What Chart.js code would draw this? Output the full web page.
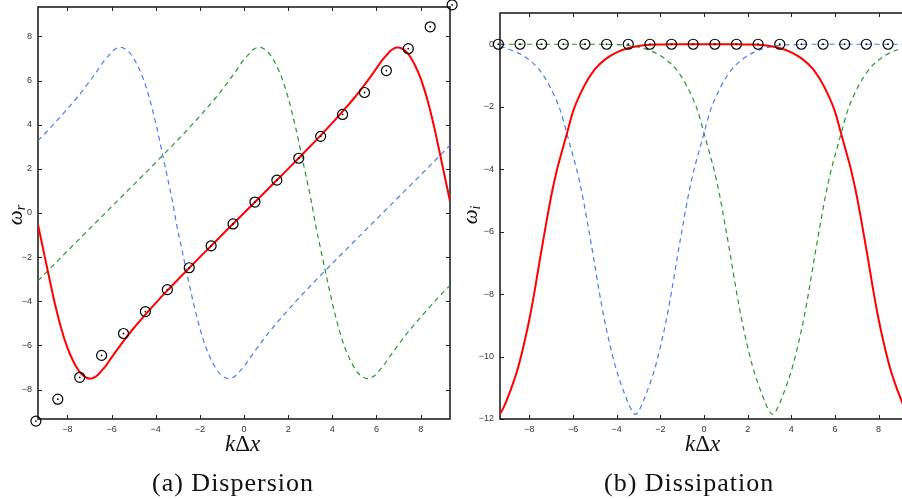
<!DOCTYPE html>
<html>
<head>
<meta charset="utf-8">
<script src="https://cdn.jsdelivr.net/npm/chart.js@4.4.1/dist/chart.umd.min.js"></script>
<style>
  body { margin:0; width:902px; height:499px; overflow:hidden; position:relative; background:#fff; }
  canvas { position:absolute; top:0; }
  .lbl { position:absolute; font-family:"Liberation Serif","Times New Roman",serif; color:#111; white-space:nowrap; }
  .ax { font-size:23px; }
  .cap { font-size:26px; letter-spacing:1px; }
  .yl { font-size:21px; transform:rotate(-90deg); transform-origin:center; }
  .yl sub { font-size:14px; font-style:italic; vertical-align:-3px; }
</style>
</head>
<body>
<canvas id="dispChart" width="460" height="440" style="left:0"></canvas>
<canvas id="dissChart" width="450" height="440" style="left:460px"></canvas>

<div class="lbl yl" style="left:6px;top:202px"><i>ω</i><sub>r</sub></div>
<div class="lbl yl" style="left:462px;top:202px"><i>ω</i><sub>i</sub></div>
<div class="lbl ax" style="left:225px;top:431px"><i>k</i>Δ<i>x</i></div>
<div class="lbl ax" style="left:685px;top:431px"><i>k</i>Δ<i>x</i></div>
<div class="lbl cap" style="left:152px;top:468px">(a) Dispersion</div>
<div class="lbl cap" style="left:604px;top:468px">(b) Dissipation</div>

<script>
// tick positions
const xTicks = [-8, -6, -4, -2, 0, 2, 4, 6, 8];
const yTicksDisp = [-8, -6, -4, -2, 0, 2, 4, 6, 8];
const yTicksDiss = [-12, -10, -8, -6, -4, -2, 0];

// exact relation omega = k at the sampled wavenumbers
const kExact = [-9.425, -8.433, -7.441, -6.449, -5.457, -4.465, -3.472, -2.480, -1.488, -0.496,
                0.496, 1.488, 2.480, 3.472, 4.465, 5.457, 6.449, 7.441, 8.433, 9.425];
const omegaExactR = [-9.425, -8.433, -7.441, -6.449, -5.457, -4.465, -3.472, -2.480, -1.488, -0.496,
                     0.496, 1.488, 2.480, 3.472, 4.465, 5.457, 6.449, 7.441, 8.433, 9.425];
const omegaExactI = [0, 0, 0, 0, 0, 0, 0, 0, 0, 0, 0, 0, 0, 0, 0, 0, 0, 0, 0, 0];

// real part: physical mode
const kPhysR = [-9.33, -9.1, -8.85, -8.6, -8.3, -8, -7.75, -7.5, -7.3, -7.15, -7, -6.9, -6.8, -6.65, -6.5, -6.25, -6, -5.5, -5, -4.5, -4, -3.5, -3, -2, -1,
                0, 1, 2, 3, 3.5, 4, 4.5, 5, 5.5, 6, 6.25, 6.5, 6.65, 6.8, 6.9, 7, 7.15, 7.3, 7.5, 7.75, 8, 8.3, 8.6, 8.85, 9.1, 9.33];
const physR = [-0.53, -1.62, -2.8, -3.95, -5.15, -6.1, -6.68, -7.12, -7.35, -7.45, -7.5, -7.5, -7.46, -7.36, -7.2, -6.91, -6.55, -5.86, -5.22, -4.64, -4.08, -3.54, -3.02, -2, -1,
               0, 1, 2, 3.02, 3.54, 4.08, 4.64, 5.22, 5.86, 6.55, 6.91, 7.2, 7.36, 7.46, 7.5, 7.5, 7.45, 7.35, 7.12, 6.68, 6.1, 5.15, 3.95, 2.8, 1.62, 0.53];

// real part: the two spurious modes
const kSpurAR = [-9.33, -9.07, -8.57, -8.07, -7.57, -7.07, -6.57, -6.32, -6.07, -5.92, -5.77, -5.67, -5.57, -5.42, -5.27, -5.07, -4.82, -4.57, -4.27, -3.97, -3.72, -3.47, -3.24,
                 -3.05, -2.82, -2.57, -2.32, -2.02, -1.72, -1.47, -1.22, -1.02, -0.87, -0.72, -0.62, -0.52, -0.37, -0.22, 0.03, 0.28, 0.78, 1.28, 1.78, 2.28, 2.78, 3.28,
                 4.28, 5.28, 6.28, 7.28, 8.28, 9.33];
const spurAR = [3.28, 3.54, 4.08, 4.64, 5.22, 5.86, 6.55, 6.91, 7.2, 7.36, 7.46, 7.5, 7.5, 7.45, 7.35, 7.12, 6.68, 6.1, 5.15, 3.95, 2.8, 1.62, 0.53,
                -0.53, -1.62, -2.8, -3.95, -5.15, -6.1, -6.68, -7.12, -7.35, -7.45, -7.5, -7.5, -7.46, -7.36, -7.2, -6.91, -6.55, -5.86, -5.22, -4.64, -4.08, -3.54, -3.02,
                -2, -1, 0, 1, 2, 3.07];
const kSpurBR = [-9.33, -8.28, -7.28, -6.28, -5.28, -4.28, -3.28, -2.78, -2.28, -1.78, -1.28, -0.78, -0.28, -0.03, 0.22, 0.37, 0.52, 0.62, 0.72, 0.87, 1.02, 1.22, 1.47,
                 1.72, 2.02, 2.32, 2.57, 2.82, 3.05, 3.24, 3.47, 3.72, 3.97, 4.27, 4.57, 4.82, 5.07, 5.27, 5.42, 5.57, 5.67, 5.77, 5.92, 6.07, 6.32, 6.57,
                 7.07, 7.57, 8.07, 8.57, 9.07, 9.33];
const spurBR = [-3.07, -2, -1, 0, 1, 2, 3.02, 3.54, 4.08, 4.64, 5.22, 5.86, 6.55, 6.91, 7.2, 7.36, 7.46, 7.5, 7.5, 7.45, 7.35, 7.12, 6.68,
                6.1, 5.15, 3.95, 2.8, 1.62, 0.53, -0.53, -1.62, -2.8, -3.95, -5.15, -6.1, -6.68, -7.12, -7.35, -7.45, -7.5, -7.5, -7.46, -7.36, -7.2, -6.91, -6.55,
                -5.86, -5.22, -4.64, -4.08, -3.54, -3.28];

// imaginary part: physical mode
const kPhysI = [-9.35, -9.2, -9, -8.75, -8.5, -8.25, -8, -7.75, -7.5, -7.25, -7, -6.75, -6.5, -6.28, -6, -5.5, -5, -4.5, -4, -3.5, -3.14, -2.5, -2, -1.5,
                0, 1.5, 2, 2.5, 3.14, 3.5, 4, 4.5, 5, 5.5, 6, 6.28, 6.5, 6.75, 7, 7.25, 7.5, 7.75, 8, 8.25, 8.5, 8.75, 9, 9.2, 9.35];
const physI = [-11.84, -11.65, -11.32, -10.85, -10.3, -9.6, -8.8, -7.85, -6.8, -5.8, -4.85, -4.05, -3.4, -2.85, -2.15, -1.35, -0.8, -0.47, -0.26, -0.13, -0.07, -0.02, -0.01, 0,
               0, 0, -0.01, -0.02, -0.07, -0.13, -0.26, -0.47, -0.8, -1.35, -2.15, -2.85, -3.4, -4.05, -4.85, -5.8, -6.8, -7.85, -8.8, -9.6, -10.3, -10.85, -11.32, -11.65, -11.84];

// imaginary part: spurious modes
const kSpurAI = [-9.35, -9.07, -8.57, -8.07, -7.57, -7.07, -6.57, -6.29, -6.07, -5.82, -5.57, -5.32, -5.07, -4.82, -4.57, -4.32, -4.07, -3.82, -3.57, -3.37, -3.14,
                 -2.92, -2.72, -2.47, -2.22, -1.97, -1.72, -1.47, -1.22, -0.97, -0.72, -0.47, -0.22, 0, 0.28, 0.78, 1.28, 1.78, 2.28, 2.78, 3.14, 3.78, 4.28, 4.78, 9.35];
const spurAI = [-0.06, -0.13, -0.26, -0.47, -0.8, -1.35, -2.15, -2.85, -3.4, -4.05, -4.85, -5.8, -6.8, -7.85, -8.8, -9.6, -10.3, -10.85, -11.32, -11.65, -11.85,
                -11.65, -11.32, -10.85, -10.3, -9.6, -8.8, -7.85, -6.8, -5.8, -4.85, -4.05, -3.4, -2.85, -2.15, -1.35, -0.8, -0.47, -0.26, -0.13, -0.07, -0.02, -0.01, 0, 0];
const kSpurBI = [-9.35, -4.78, -4.28, -3.78, -3.14, -2.78, -2.28, -1.78, -1.28, -0.78, -0.28, 0, 0.22, 0.47, 0.72, 0.97, 1.22, 1.47, 1.72, 1.97, 2.22, 2.47, 2.72, 2.92,
                 3.14, 3.37, 3.57, 3.82, 4.07, 4.32, 4.57, 4.82, 5.07, 5.32, 5.57, 5.82, 6.07, 6.29, 6.57, 7.07, 7.57, 8.07, 8.57, 9.07, 9.35];
const spurBI = [0, 0, -0.01, -0.02, -0.07, -0.13, -0.26, -0.47, -0.8, -1.35, -2.15, -2.85, -3.4, -4.05, -4.85, -5.8, -6.8, -7.85, -8.8, -9.6, -10.3, -10.85, -11.32, -11.65,
                -11.85, -11.65, -11.32, -10.85, -10.3, -9.6, -8.8, -7.85, -6.8, -5.8, -4.85, -4.05, -3.4, -2.85, -2.15, -1.35, -0.8, -0.47, -0.26, -0.13, -0.06];

const RED = '#ff0000', BLUE = '#4a7bf0', GREEN = '#2a9630';

function pts(xs, ys){ return xs.map((x,i)=>({x, y:ys[i]})); }

function curve(xs, ys, color, dashed, order){
  return {
    data: pts(xs, ys), borderColor: color, borderWidth: dashed ? 1.2 : 2,
    borderDash: dashed ? [5,4] : [], pointRadius: 0, fill: false,
    cubicInterpolationMode: 'monotone', order
  };
}
function markers(xs, ys){
  return [
    { data: pts(xs, ys), showLine:false, pointRadius:5, pointBorderWidth:1.2,
      pointBorderColor:'#000', pointBackgroundColor:'rgba(0,0,0,0)', clip:false, order:1 },
    { data: pts(xs, ys), showLine:false, pointRadius:0.9, pointBorderWidth:0,
      pointBackgroundColor:'#000', clip:false, order:0 }
  ];
}

const fmt = v => v < 0 ? '\u2212' + Math.abs(v) : '' + v;

// frame and inward tick marks on all four sides
const boxTicks = {
  id: 'boxTicks',
  beforeDatasetsDraw(chart){
    const {ctx, chartArea:a, scales:{x, y}} = chart;
    ctx.save();
    ctx.strokeStyle = '#222'; ctx.lineWidth = 1;
    ctx.beginPath();
    x.ticks.forEach(t=>{
      const px = Math.round(x.getPixelForValue(t.value)) + 0.5;
      ctx.moveTo(px, a.bottom); ctx.lineTo(px, a.bottom - 4);
      ctx.moveTo(px, a.top); ctx.lineTo(px, a.top + 4);
    });
    y.ticks.forEach(t=>{
      const py = Math.round(y.getPixelForValue(t.value)) + 0.5;
      ctx.moveTo(a.left, py); ctx.lineTo(a.left + 4, py);
      ctx.moveTo(a.right, py); ctx.lineTo(a.right - 4, py);
    });
    ctx.stroke();
    ctx.lineWidth = 1.6;
    ctx.strokeRect(a.left, a.top, a.right - a.left, a.bottom - a.top);
    ctx.restore();
  }
};

function makeChart(id, datasets, xr, yr, yTicks, yWidth, pad){
  return new Chart(document.getElementById(id), {
    type: 'line',
    data: { datasets },
    options: {
      responsive: false, animation: false, devicePixelRatio: 1,
      layout: { padding: pad, autoPadding: false },
      plugins: { legend:{display:false}, tooltip:{enabled:false} },
      scales: {
        x: {
          type:'linear', min:xr[0], max:xr[1],
          grid:{display:false, drawTicks:false}, border:{display:false},
          afterBuildTicks: s => { s.ticks = xTicks.map(v=>({value:v})); },
          afterFit: s => { s.height = 21; s.paddingLeft = 0; s.paddingRight = 0; },
          ticks:{ callback: fmt, padding:5, maxRotation:0, color:'#333',
                  font:{family:'"Liberation Sans", Arial, sans-serif', size:9} }
        },
        y: {
          type:'linear', min:yr[0], max:yr[1],
          grid:{display:false, drawTicks:false}, border:{display:false},
          afterBuildTicks: s => { s.ticks = yTicks.map(v=>({value:v})); },
          afterFit: s => { s.width = yWidth; s.paddingTop = 0; s.paddingBottom = 0; },
          ticks:{ callback: fmt, padding:6, color:'#333',
                  font:{family:'"Liberation Sans", Arial, sans-serif', size:9} }
        }
      }
    },
    plugins: [boxTicks]
  });
}

makeChart('dispChart', [
  ...markers(kExact, omegaExactR),
  curve(kPhysR, physR, RED, false, 2),
  curve(kSpurAR, spurAR, BLUE, true, 3),
  curve(kSpurBR, spurBR, GREEN, true, 3)
], [-9.33, 9.33], [-9.33, 9.33], yTicksDisp, 38, {left:0, top:7, right:10, bottom:0});

makeChart('dissChart', [
  ...markers(kExact, omegaExactI),
  curve(kPhysI, physI, RED, false, 2),
  curve(kSpurAI, spurAI, BLUE, true, 3),
  curve(kSpurBI, spurBI, GREEN, true, 3)
], [-9.35, 9.35], [-12, 1], yTicksDiss, 40, {left:0, top:13, right:2, bottom:0});
</script>
</body>
</html>
